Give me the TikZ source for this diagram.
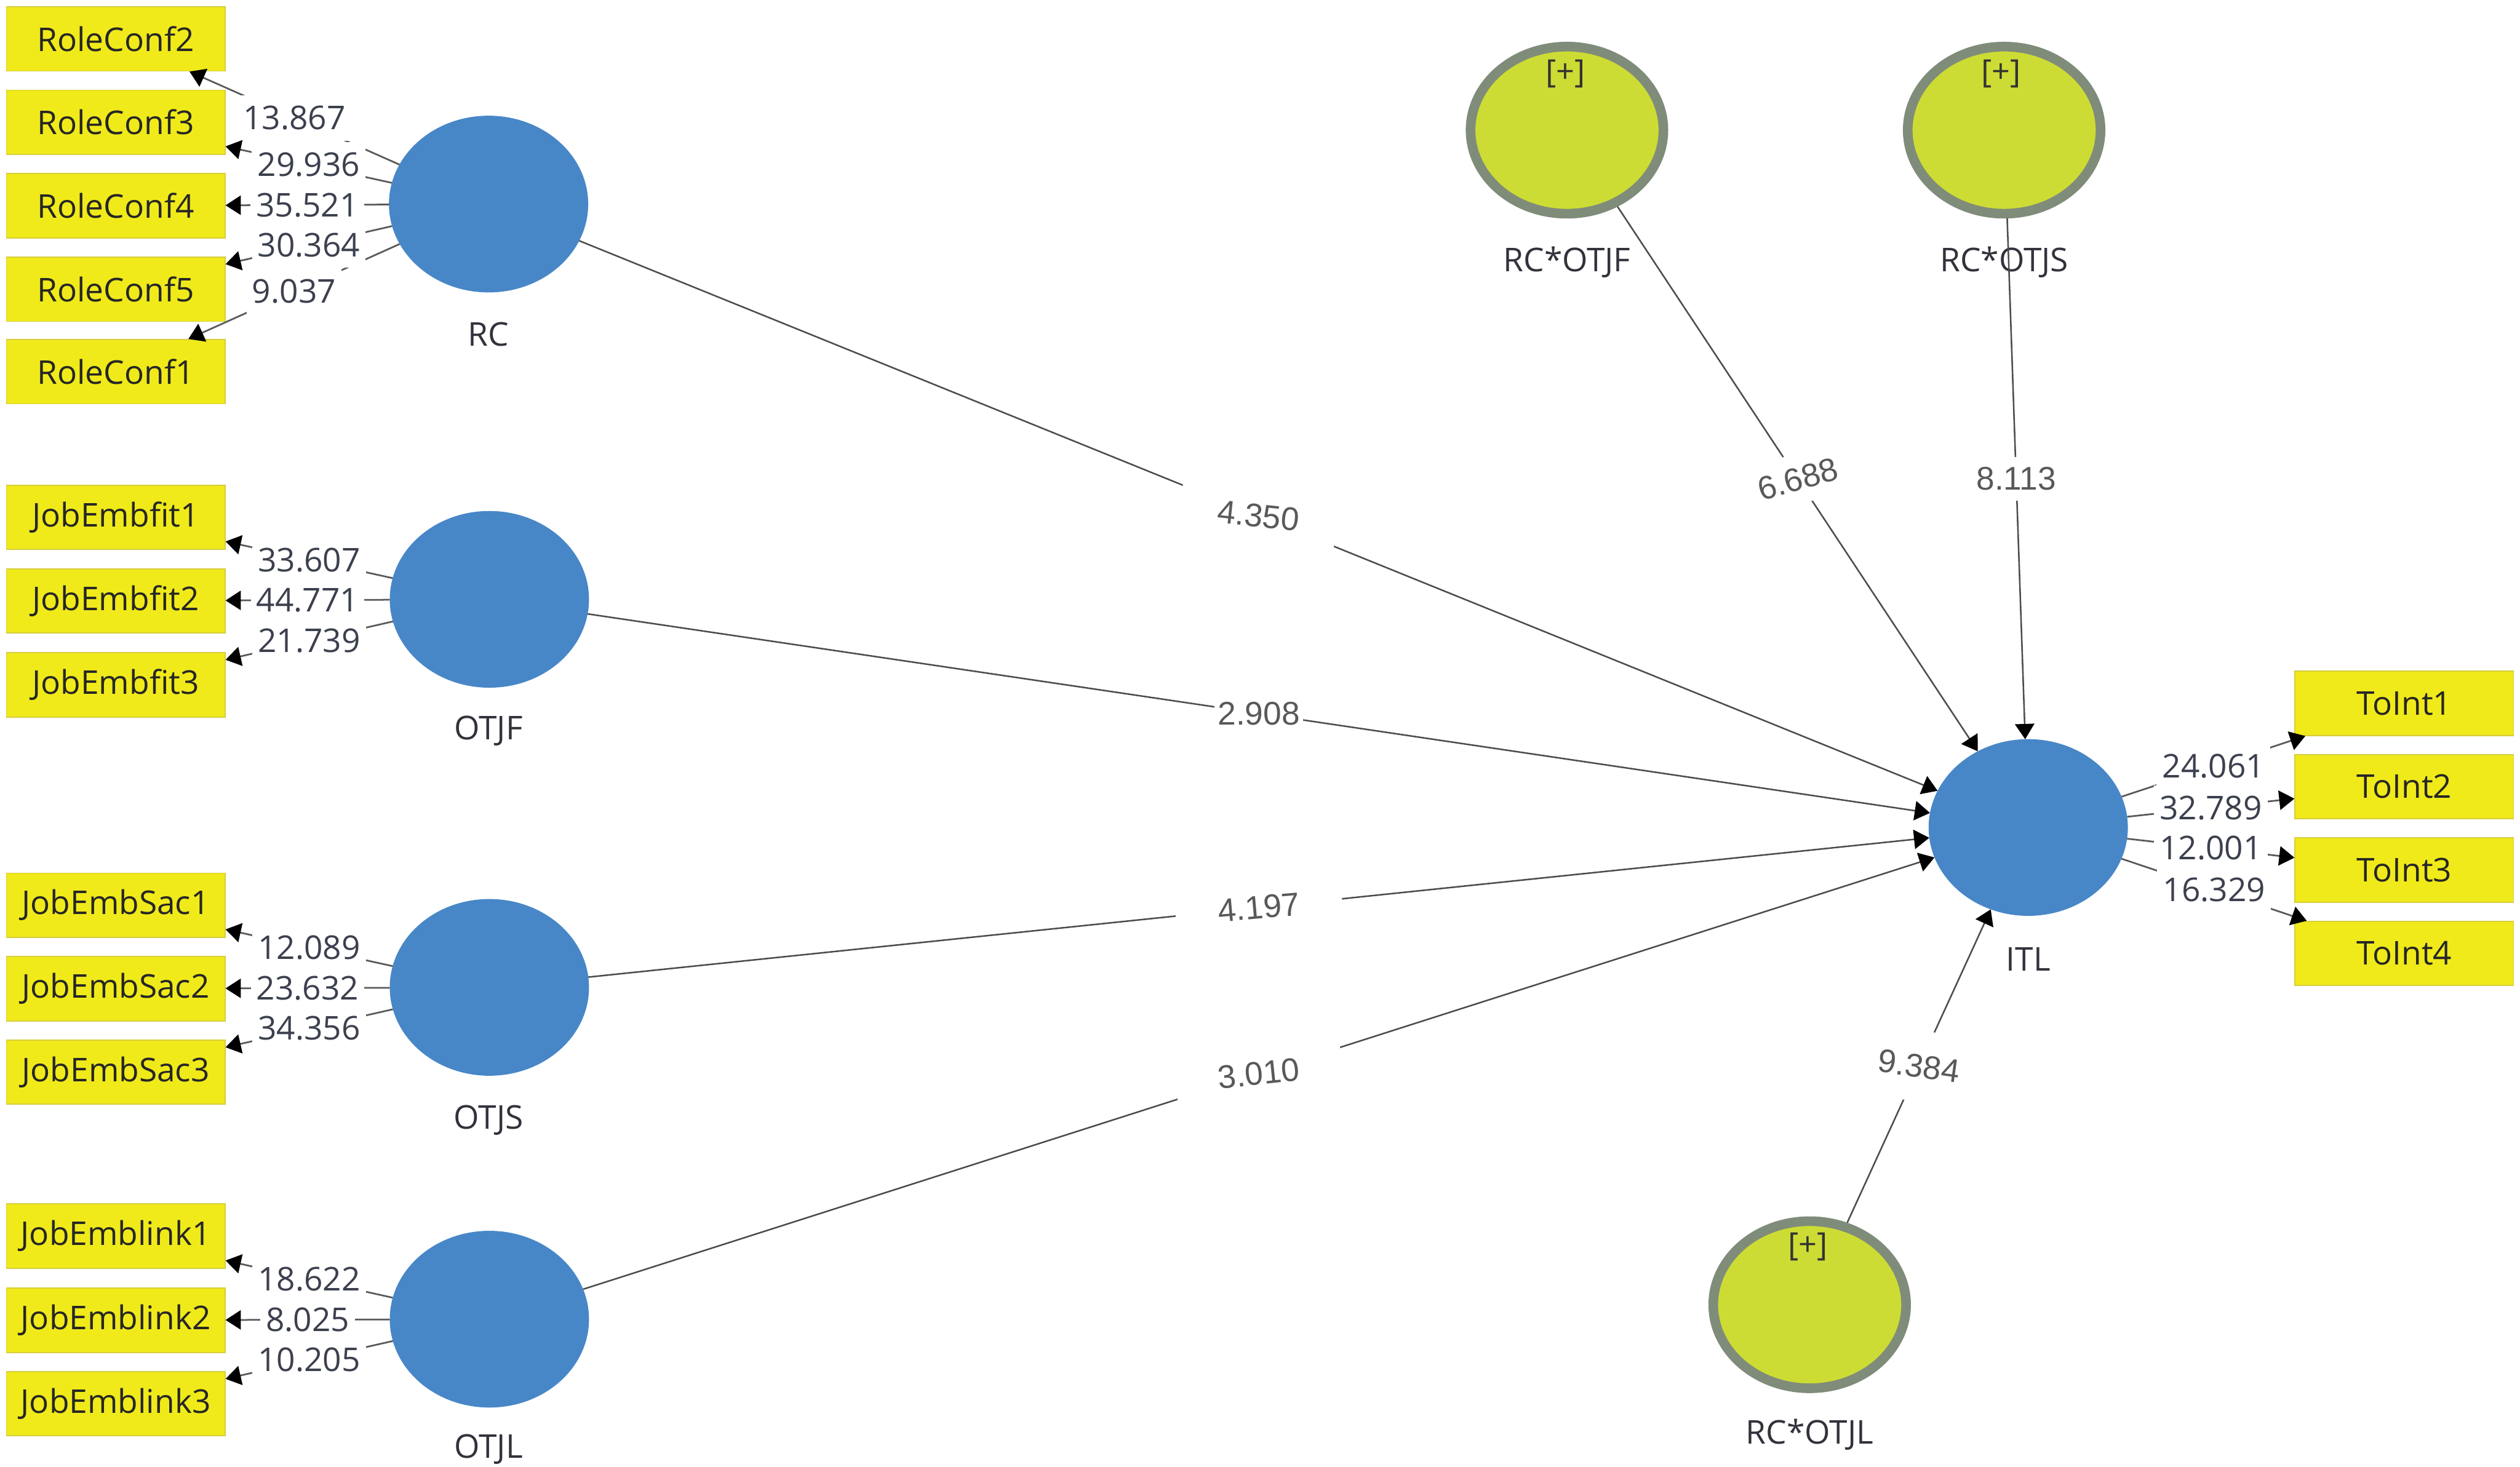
\documentclass[tikz,border=0pt]{standalone}
\usepackage{fontspec}
\setmainfont{Open Sans}
\newfontfamily\pathfont{Liberation Sans}
\usepackage{xcolor}
\usetikzlibrary{shapes.geometric, arrows.meta, positioning, calc}
\definecolor{lvblue}{RGB}{72,135,199}
\definecolor{indyel}{RGB}{240,234,26}
\definecolor{indedge}{RGB}{214,206,60}
\definecolor{modfill}{RGB}{205,220,52}
\definecolor{modedge}{RGB}{128,140,122}
\definecolor{ldtext}{RGB}{60,64,78}
\definecolor{lvtext}{RGB}{50,50,60}

\begin{document}
\begin{tikzpicture}[x=0.02cm,y=-0.02cm]
\tikzset{
  lv/.style={ellipse,fill=lvblue,minimum width=2.48cm,minimum height=2.2cm,inner sep=0pt,outer sep=0pt},
  mv/.style={ellipse,fill=modfill,draw=modedge,line width=0.12cm,minimum width=2.4cm,minimum height=2.08cm,inner sep=0pt},
  ind/.style={rectangle,fill=indyel,draw=indedge,line width=0.4pt,minimum width=2.72cm,minimum height=0.8cm,inner sep=0pt,font=\fontsize{11.6}{13}\selectfont,text=black!85},
  lvlab/.style={inner sep=0pt,font=\fontsize{11.6}{13}\selectfont,text=lvtext},
  plus/.style={inner sep=0pt,font=\fontsize{11.4}{13}\selectfont,text=black!80},
  ld/.style={-{Triangle[length=0.19cm,width=0.24cm,color=black]},line width=0.6pt,draw=black!65},
  ldlab/.style={pos=0.5,fill=white,inner xsep=0.07cm,inner ysep=0pt,minimum height=0.56cm,font=\fontsize{11.6}{13}\selectfont,text=ldtext},
  pc/.style={-{Triangle[length=0.19cm,width=0.24cm,color=black]},line width=0.55pt,draw=black!70},
  pclab/.style={pos=0.5,fill=white,inner sep=0pt,font=\pathfont\fontsize{11.6}{13}\selectfont,text=black!65}
}
\useasboundingbox (0,0) rectangle (1568,913);

% indicators, left
\node[ind] (rc2) at (72,24.2) {RoleConf2};
\node[ind] (rc3) at (72,76.1) {RoleConf3};
\node[ind] (rc4) at (72,128.1) {RoleConf4};
\node[ind] (rc5) at (72,180) {RoleConf5};
\node[ind] (rc1) at (72,231.3) {RoleConf1};
\node[ind] (jf1) at (72,322) {JobEmbfit1};
\node[ind] (jf2) at (72,374) {JobEmbfit2};
\node[ind] (jf3) at (72,426.3) {JobEmbfit3};
\node[ind] (js1) at (72,563.4) {JobEmbSac1};
\node[ind] (js2) at (72,615.4) {JobEmbSac2};
\node[ind] (js3) at (72,667.3) {JobEmbSac3};
\node[ind] (jl1) at (72,769.3) {JobEmblink1};
\node[ind] (jl2) at (72,821.7) {JobEmblink2};
\node[ind] (jl3) at (72,873.6) {JobEmblink3};
% indicators, right
\node[ind] (ti1) at (1496,437.7) {ToInt1};
\node[ind] (ti2) at (1496,489.6) {ToInt2};
\node[ind] (ti3) at (1496,541.5) {ToInt3};
\node[ind] (ti4) at (1496,593.4) {ToInt4};

% latent variables
\node[lv] (RC) at (304,127) {};
\node[lv] (OTJF) at (304.5,373) {};
\node[lv] (OTJS) at (304.5,614.5) {};
\node[lv] (OTJL) at (304.5,821) {};
\node[lv] (ITL) at (1262,515) {};
\node[lvlab] (RC-t) at (304,208) {RC};
\node[lvlab] (OTJF-t) at (304,455) {OTJF};
\node[lvlab] (OTJS-t) at (304,697) {OTJS};
\node[lvlab] (OTJL-t) at (304,902) {OTJL};
\node[lvlab] (ITL-t) at (1262,597) {ITL};

% interaction terms
\node[mv] (mF) at (975,81) {};
\node[mv] (mS) at (1247,81) {};
\node[mv] (mL) at (1126,812) {};
\node[plus] (mF-p) at (974,46) {[+]};
\node[plus] (mS-p) at (1245,46) {[+]};
\node[plus] (mL-p) at (1125,776) {[+]};
\node[lvlab] (mF-t) at (975,163) {RC*OTJF};
\node[lvlab] (mS-t) at (1247,163) {RC*OTJS};
\node[lvlab] (mL-t) at (1126,893) {RC*OTJL};

% outer loadings
\draw[ld] (RC) -- node[ldlab] {9.037} (rc1);
\draw[ld] (RC) -- node[ldlab] {13.867} (rc2);
\draw[ld] (RC) -- node[ldlab] {29.936} (rc3);
\draw[ld] (RC) -- node[ldlab] {35.521} (rc4);
\draw[ld] (RC) -- node[ldlab] {30.364} (rc5);
\draw[ld] (OTJF) -- node[ldlab] {33.607} (jf1);
\draw[ld] (OTJF) -- node[ldlab] {44.771} (jf2);
\draw[ld] (OTJF) -- node[ldlab] {21.739} (jf3);
\draw[ld] (OTJS) -- node[ldlab] {12.089} (js1);
\draw[ld] (OTJS) -- node[ldlab] {23.632} (js2);
\draw[ld] (OTJS) -- node[ldlab] {34.356} (js3);
\draw[ld] (OTJL) -- node[ldlab] {18.622} (jl1);
\draw[ld] (OTJL) -- node[ldlab] {8.025} (jl2);
\draw[ld] (OTJL) -- node[ldlab] {10.205} (jl3);
\draw[ld] (ITL) -- node[ldlab] {24.061} (ti1);
\draw[ld] (ITL) -- node[ldlab] {32.789} (ti2);
\draw[ld] (ITL) -- node[ldlab] {12.001} (ti3);
\draw[ld] (ITL) -- node[ldlab] {16.329} (ti4);

% inner model
\draw[pc] (RC) -- node[pclab,rotate=-6,minimum width=1.95cm,minimum height=0.64cm] {4.350} (ITL);
\draw[pc] (OTJF) -- node[pclab,minimum width=1.1cm,minimum height=0.4cm] {2.908} (ITL);
\draw[pc] (OTJS) -- node[pclab,rotate=5,minimum width=2.08cm,minimum height=0.4cm] {4.197} (ITL);
\draw[pc] (OTJL) -- node[pclab,rotate=6,minimum width=2.08cm,minimum height=0.5cm] {3.010} (ITL);
\draw[pc] (mF) -- node[pclab,rotate=16,minimum width=1.0cm,minimum height=0.62cm] {6.688} (ITL);
\draw[pc] (mS) -- node[pclab,minimum width=1.0cm,minimum height=0.54cm] {8.113} (ITL);
\draw[pc] (mL) -- node[pclab,rotate=-8,minimum width=1.0cm,minimum height=0.88cm] {9.384} (ITL);
\end{tikzpicture}
\end{document}
